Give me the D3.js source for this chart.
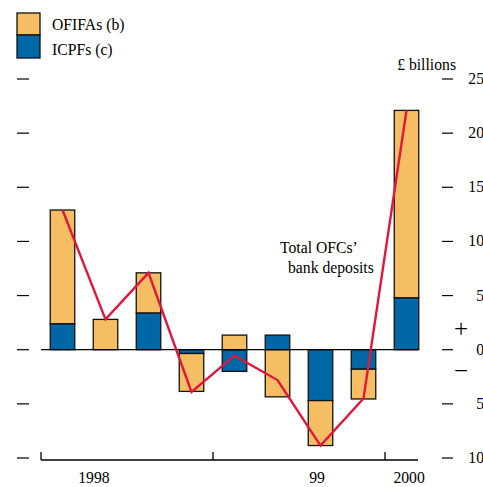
<!DOCTYPE html>
<html><head><meta charset="utf-8">
<script src="https://cdn.jsdelivr.net/npm/d3@7"></script>
<style>body{margin:0;background:#fff}svg{display:block;font-family:"Liberation Serif","Times New Roman",serif}</style>
</head><body><svg id="c" width="483" height="487"></svg>
<script>
const quarters = ["1998Q1","1998Q2","1998Q3","1998Q4","1999Q1","1999Q2","1999Q3","1999Q4","2000Q1"];
const icpfs  = [2.4, 0, 3.4, -0.35, -2.0, 1.35, -4.7, -1.8, 4.8];
const ofifas = [10.5, 2.8, 3.7, -3.5, 1.35, -4.35, -4.15, -2.75, 17.3];
const totals = [12.9, 2.8, 7.1, -3.9, -0.55, -2.8, -8.85, -4.5, 22.1];
const yTicks = [25, 20, 15, 10, 5, 0, -5, -10];
const yearTicks = [0, 4, 8];
const yearLabels = [{t:"1998", q:1.23}, {t:"99", q:6.42}, {t:"2000", q:8.56}];

const svg = d3.select("#c");
const ORANGE = "#F5BE63", BLUE = "#0067A6", RED = "#E2163D";
const y = d3.scaleLinear().domain([-10, 25]).range([458, 79]);
const xq = d3.scaleLinear().domain([0, 9]).range([41, 428]);
const band = d3.scaleBand().domain(quarters).range([41, 428]).paddingInner(0.43).paddingOuter(0.215);
const FS = 15.7;

// Right axis ticks and labels
yTicks.forEach(v => {
  svg.append("line").attr("x1", 442).attr("x2", 453).attr("y1", y(v)).attr("y2", y(v)).attr("stroke", "#000").attr("stroke-width", 1.2);
  svg.append("text").attr("x", 484).attr("y", y(v) + 5).attr("text-anchor", "end").attr("font-size", FS).text(Math.abs(v));
  svg.append("line").attr("x1", 17).attr("x2", 29).attr("y1", y(v)).attr("y2", y(v)).attr("stroke", "#000").attr("stroke-width", 1.2);
});
svg.append("text").attr("x", 456).attr("y", 70).attr("text-anchor", "end").attr("font-size", FS).text("£ billions");
svg.append("text").attr("x", 461).attr("y", 337).attr("text-anchor", "middle").attr("font-size", 25).attr("font-weight", 300).text("+");
svg.append("text").attr("x", 461).attr("y", 379).attr("text-anchor", "middle").attr("font-size", 25).attr("font-weight", 300).text("−");

// Bars
const bw = band.bandwidth();
quarters.forEach((q, i) => {
  const a = icpfs[i], b = ofifas[i];
  let segs = [];
  if (a !== 0) segs.push({y0: 0, y1: a, c: BLUE});
  if (b !== 0) {
    const base = (Math.sign(a) === Math.sign(b)) ? a : 0;
    segs.push({y0: base, y1: base + b, c: ORANGE});
  }
  segs.forEach(s => {
    svg.append("rect").attr("x", band(q)).attr("width", bw)
      .attr("y", y(Math.max(s.y0, s.y1))).attr("height", Math.abs(y(s.y0) - y(s.y1)))
      .attr("fill", s.c).attr("stroke", "#111").attr("stroke-width", 1.3);
  });
});

// Zero line
svg.append("line").attr("x1", 41).attr("x2", 418).attr("y1", y(0)).attr("y2", y(0)).attr("stroke", "#000").attr("stroke-width", 1.3);

// Total line
const line = d3.line().x((d, i) => band(quarters[i]) + bw / 2).y(d => y(d));
svg.append("path").attr("d", line(totals)).attr("fill", "none").attr("stroke", RED).attr("stroke-width", 2.4).attr("stroke-linejoin", "miter");

// X axis
svg.append("line").attr("x1", 41).attr("x2", 418).attr("y1", 460).attr("y2", 460).attr("stroke", "#000").attr("stroke-width", 1.3);
yearTicks.forEach(q => {
  svg.append("line").attr("x1", xq(q)).attr("x2", xq(q)).attr("y1", 452).attr("y2", 460).attr("stroke", "#000").attr("stroke-width", 1.3);
});
yearLabels.forEach(d => {
  svg.append("text").attr("x", xq(d.q)).attr("y", 483).attr("text-anchor", "middle").attr("font-size", FS).text(d.t);
});

// Annotation
svg.append("text").attr("x", 280).attr("y", 253).attr("font-size", FS).text("Total OFCs’");
svg.append("text").attr("x", 288).attr("y", 273).attr("font-size", FS).text("bank deposits");

// Legend
svg.append("rect").attr("x", 17).attr("y", 13).attr("width", 23).attr("height", 22).attr("fill", ORANGE).attr("stroke", "#111").attr("stroke-width", 1.3);
svg.append("rect").attr("x", 17).attr("y", 35).attr("width", 23).attr("height", 23).attr("fill", BLUE).attr("stroke", "#111").attr("stroke-width", 1.3);
svg.append("text").attr("x", 52).attr("y", 30).attr("font-size", FS).text("OFIFAs (b)");
svg.append("text").attr("x", 52).attr("y", 55).attr("font-size", FS).text("ICPFs (c)");
</script></body></html>
